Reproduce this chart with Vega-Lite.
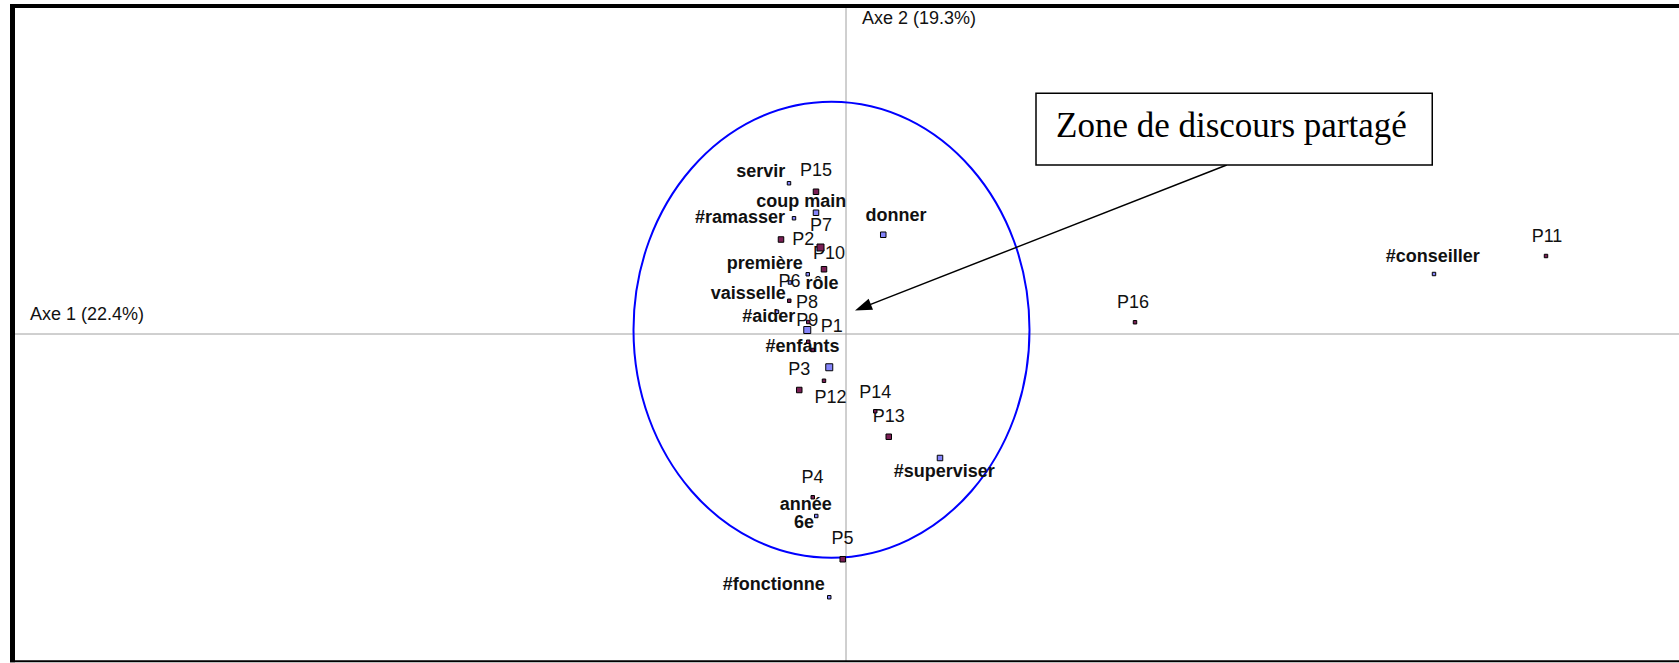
{
  "$schema": "https://vega.github.io/schema/vega-lite/v6.json",
  "width": 1679,
  "height": 663,
  "padding": 0,
  "autosize": {"type": "none"},
  "background": "white",
  "config": {"view": {"stroke": null}},
  "datasets": {
    "unique": [{}],
    "points": [
      {"nom": "servir", "type": "mot", "axe1": -0.228, "axe2": 0.603, "poids": 1},
      {"nom": "P15", "type": "individu", "axe1": -0.120, "axe2": 0.569, "poids": 2},
      {"nom": "coup main", "type": "mot", "axe1": -0.120, "axe2": 0.485, "poids": 2},
      {"nom": "#ramasser", "type": "mot", "axe1": -0.208, "axe2": 0.463, "poids": 1},
      {"nom": "P2", "type": "individu", "axe1": -0.260, "axe2": 0.378, "poids": 2},
      {"nom": "P7", "type": "individu", "axe1": -0.102, "axe2": 0.346, "poids": 3},
      {"nom": "donner", "type": "mot", "axe1": 0.149, "axe2": 0.397, "poids": 2},
      {"nom": "P10", "type": "individu", "axe1": -0.088, "axe2": 0.259, "poids": 2},
      {"nom": "première", "type": "mot", "axe1": -0.153, "axe2": 0.239, "poids": 1},
      {"nom": "vaisselle", "type": "mot", "axe1": -0.224, "axe2": 0.206, "poids": 1},
      {"nom": "P6", "type": "individu", "axe1": -0.227, "axe2": 0.133, "poids": 1},
      {"nom": "#aider", "type": "mot", "axe1": -0.276, "axe2": 0.089, "poids": 1},
      {"nom": "P8", "type": "individu", "axe1": -0.151, "axe2": 0.048, "poids": 1},
      {"nom": "#enfants", "type": "mot", "axe1": -0.155, "axe2": 0.016, "poids": 3},
      {"nom": "P9", "type": "individu", "axe1": -0.151, "axe2": -0.031, "poids": 1},
      {"nom": "P1", "type": "individu", "axe1": -0.133, "axe2": -0.064, "poids": 1},
      {"nom": "rôle", "type": "mot", "axe1": -0.067, "axe2": -0.133, "poids": 3},
      {"nom": "P12", "type": "individu", "axe1": -0.088, "axe2": -0.187, "poids": 1},
      {"nom": "P3", "type": "individu", "axe1": -0.187, "axe2": -0.224, "poids": 2},
      {"nom": "P14", "type": "individu", "axe1": 0.117, "axe2": -0.309, "poids": 1},
      {"nom": "P13", "type": "individu", "axe1": 0.171, "axe2": -0.411, "poids": 2},
      {"nom": "#superviser", "type": "mot", "axe1": 0.376, "axe2": -0.496, "poids": 2},
      {"nom": "P4", "type": "individu", "axe1": -0.133, "axe2": -0.653, "poids": 1},
      {"nom": "année 6e", "type": "mot", "axe1": -0.119, "axe2": -0.728, "poids": 1},
      {"nom": "P5", "type": "individu", "axe1": -0.013, "axe2": -0.901, "poids": 2},
      {"nom": "#fonctionne", "type": "mot", "axe1": -0.067, "axe2": -1.053, "poids": 1},
      {"nom": "P16", "type": "individu", "axe1": 1.156, "axe2": 0.047, "poids": 1},
      {"nom": "#conseiller", "type": "mot", "axe1": 2.352, "axe2": 0.240, "poids": 1},
      {"nom": "P11", "type": "individu", "axe1": 2.800, "axe2": 0.312, "poids": 1}
    ],
    "etiquettes": [
      {"texte": "servir", "type": "mot", "axe1": -0.341, "axe2": 0.649},
      {"texte": "P15", "type": "individu", "axe1": -0.120, "axe2": 0.652},
      {"texte": "coup main", "type": "mot", "axe1": -0.179, "axe2": 0.529},
      {"texte": "#ramasser", "type": "mot", "axe1": -0.424, "axe2": 0.463},
      {"texte": "P7", "type": "individu", "axe1": -0.100, "axe2": 0.432},
      {"texte": "P2", "type": "individu", "axe1": -0.171, "axe2": 0.376},
      {"texte": "P10", "type": "individu", "axe1": -0.068, "axe2": 0.320},
      {"texte": "donner", "type": "mot", "axe1": 0.200, "axe2": 0.472},
      {"texte": "première", "type": "mot", "axe1": -0.325, "axe2": 0.280},
      {"texte": "P6", "type": "individu", "axe1": -0.226, "axe2": 0.209},
      {"texte": "rôle", "type": "mot", "axe1": -0.096, "axe2": 0.200},
      {"texte": "vaisselle", "type": "mot", "axe1": -0.391, "axe2": 0.160},
      {"texte": "P8", "type": "individu", "axe1": -0.156, "axe2": 0.125},
      {"texte": "#aider", "type": "mot", "axe1": -0.309, "axe2": 0.069},
      {"texte": "P9", "type": "individu", "axe1": -0.155, "axe2": 0.053},
      {"texte": "P1", "type": "individu", "axe1": -0.057, "axe2": 0.029},
      {"texte": "#enfants", "type": "mot", "axe1": -0.174, "axe2": -0.051},
      {"texte": "P3", "type": "individu", "axe1": -0.187, "axe2": -0.144},
      {"texte": "P12", "type": "individu", "axe1": -0.062, "axe2": -0.257},
      {"texte": "P14", "type": "individu", "axe1": 0.117, "axe2": -0.235},
      {"texte": "P13", "type": "individu", "axe1": 0.171, "axe2": -0.331},
      {"texte": "#superviser", "type": "mot", "axe1": 0.393, "axe2": -0.551},
      {"texte": "P4", "type": "individu", "axe1": -0.134, "axe2": -0.577},
      {"texte": "année", "type": "mot", "axe1": -0.161, "axe2": -0.684},
      {"texte": "6e", "type": "mot", "axe1": -0.168, "axe2": -0.757},
      {"texte": "P5", "type": "individu", "axe1": -0.014, "axe2": -0.821},
      {"texte": "#fonctionne", "type": "mot", "axe1": -0.289, "axe2": -1.004},
      {"texte": "P16", "type": "individu", "axe1": 1.148, "axe2": 0.123},
      {"texte": "#conseiller", "type": "mot", "axe1": 2.347, "axe2": 0.309},
      {"texte": "P11", "type": "individu", "axe1": 2.804, "axe2": 0.389}
    ],
    "titres": [
      {"texte": "Axe 1 (22.4%)", "axe1": -3.264, "axe2": 0.076},
      {"texte": "Axe 2 (19.3%)", "axe1": 0.064, "axe2": 1.259}
    ],
    "annotation": [
      {"texte": "Zone de discours partagé", "axe1": 0.84, "axe2": 0.79}
    ]
  },
  "layer": [
    {
      "data": {"name": "unique"},
      "mark": {"type": "rule", "color": "#A0A0A0", "strokeWidth": 1},
      "encoding": {
        "x": {"datum": 0, "type": "quantitative", "scale": {"domain": [-3.384, 3.332], "nice": false, "zero": false}, "axis": null},
        "y": {"datum": 1.312, "type": "quantitative", "scale": {"domain": [-1.316, 1.336], "nice": false, "zero": false}, "axis": null},
        "y2": {"datum": -1.309}
      }
    },
    {
      "data": {"name": "unique"},
      "mark": {"type": "rule", "color": "#A0A0A0", "strokeWidth": 1},
      "encoding": {
        "x": {"datum": -3.334, "type": "quantitative"},
        "x2": {"datum": 3.332},
        "y": {"datum": 0, "type": "quantitative"}
      }
    },
    {
      "data": {"name": "unique"},
      "mark": {"type": "rule", "color": "black", "strokeWidth": 4},
      "encoding": {
        "x": {"datum": -3.344, "type": "quantitative"},
        "x2": {"datum": 3.332},
        "y": {"datum": 1.312, "type": "quantitative"}
      }
    },
    {
      "data": {"name": "unique"},
      "mark": {"type": "rule", "color": "black", "strokeWidth": 2},
      "encoding": {
        "x": {"datum": -3.344, "type": "quantitative"},
        "x2": {"datum": 3.332},
        "y": {"datum": -1.309, "type": "quantitative"}
      }
    },
    {
      "data": {"name": "unique"},
      "mark": {"type": "rule", "color": "black", "strokeWidth": 5},
      "encoding": {
        "x": {"datum": -3.334, "type": "quantitative"},
        "y": {"datum": 1.32, "type": "quantitative"},
        "y2": {"datum": -1.313}
      }
    },
    {
      "data": {"name": "unique"},
      "mark": {
        "type": "point",
        "shape": "M-1,0C-1,-0.636,-0.5523,-1.1515,0,-1.1515C0.5523,-1.1515,1,-0.636,1,0C1,0.636,0.5523,1.1515,0,1.1515C-0.5523,1.1515,-1,0.636,-1,0Z",
        "size": 156816,
        "filled": false,
        "stroke": "#0000FF",
        "strokeWidth": 2,
        "opacity": 1
      },
      "encoding": {
        "x": {"datum": -0.058, "type": "quantitative"},
        "y": {"datum": 0.017, "type": "quantitative"}
      }
    },
    {
      "data": {"name": "titres"},
      "mark": {"type": "text", "align": "left", "baseline": "middle", "font": "Liberation Sans", "fontSize": 18, "color": "#111111"},
      "encoding": {
        "x": {"field": "axe1", "type": "quantitative"},
        "y": {"field": "axe2", "type": "quantitative"},
        "text": {"field": "texte"}
      }
    },
    {
      "data": {"name": "etiquettes"},
      "transform": [{"filter": "datum.type === 'individu'"}],
      "mark": {"type": "text", "align": "center", "baseline": "middle", "font": "Liberation Sans", "fontSize": 18, "color": "#111111"},
      "encoding": {
        "x": {"field": "axe1", "type": "quantitative"},
        "y": {"field": "axe2", "type": "quantitative"},
        "text": {"field": "texte"}
      }
    },
    {
      "data": {"name": "etiquettes"},
      "transform": [{"filter": "datum.type === 'mot'"}],
      "mark": {"type": "text", "align": "center", "baseline": "middle", "font": "Liberation Sans", "fontSize": 18, "fontWeight": "bold", "color": "#111111"},
      "encoding": {
        "x": {"field": "axe1", "type": "quantitative"},
        "y": {"field": "axe2", "type": "quantitative"},
        "text": {"field": "texte"}
      }
    },
    {
      "data": {"name": "points"},
      "mark": {"type": "square", "filled": true, "stroke": "black", "strokeWidth": 1, "opacity": 1},
      "encoding": {
        "x": {"field": "axe1", "type": "quantitative"},
        "y": {"field": "axe2", "type": "quantitative"},
        "fill": {"field": "type", "type": "nominal", "scale": {"domain": ["individu", "mot"], "range": ["#7A1F55", "#8585FA"]}, "legend": null},
        "size": {"field": "poids", "type": "ordinal", "scale": {"domain": [1, 2, 3], "range": [12, 49, 100]}, "legend": null}
      }
    },
    {
      "data": {"name": "unique"},
      "mark": {"type": "rule", "color": "black", "strokeWidth": 1.5},
      "encoding": {
        "x": {"datum": 1.523, "type": "quantitative"},
        "y": {"datum": 0.676, "type": "quantitative"},
        "x2": {"datum": 0.05},
        "y2": {"datum": 0.0995}
      }
    },
    {
      "data": {"name": "unique"},
      "mark": {"type": "point", "shape": "M0,0L-2,-0.7L-2,0.7Z", "size": 289, "filled": true, "color": "black", "opacity": 1, "angle": 158.6},
      "encoding": {
        "x": {"datum": 0.036, "type": "quantitative"},
        "y": {"datum": 0.094, "type": "quantitative"}
      }
    },
    {
      "data": {"name": "unique"},
      "mark": {"type": "rect", "fill": "white", "stroke": "black", "strokeWidth": 1.5},
      "encoding": {
        "x": {"datum": 0.76, "type": "quantitative"},
        "x2": {"datum": 2.345},
        "y": {"datum": 0.963, "type": "quantitative"},
        "y2": {"datum": 0.676}
      }
    },
    {
      "data": {"name": "annotation"},
      "mark": {"type": "text", "align": "left", "baseline": "alphabetic", "font": "Liberation Serif", "fontSize": 35, "color": "black"},
      "encoding": {
        "x": {"field": "axe1", "type": "quantitative"},
        "y": {"field": "axe2", "type": "quantitative"},
        "text": {"field": "texte"}
      }
    }
  ]
}
